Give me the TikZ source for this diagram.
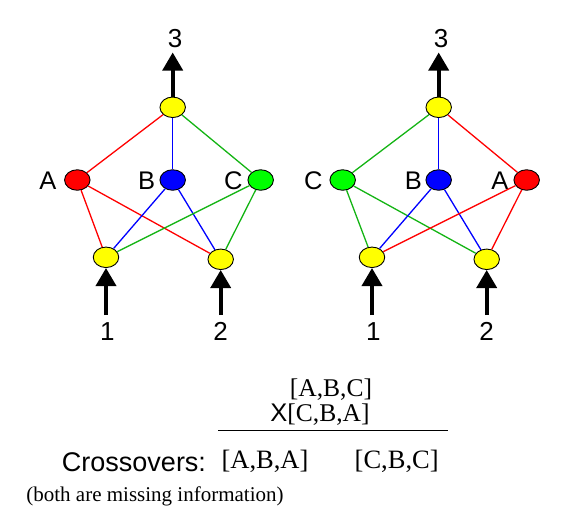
\documentclass[tikz,border=0pt]{standalone}
\usepackage{fontspec}
\setmainfont{Liberation Sans}
\newfontfamily\tnr{Liberation Serif}
\usetikzlibrary{shapes.geometric,arrows.meta}
\definecolor{nred}{RGB}{255,0,0}
\definecolor{nblue}{RGB}{0,0,255}
\definecolor{ngreen}{RGB}{0,255,0}
\definecolor{egreen}{RGB}{20,180,20}
\definecolor{nyellow}{RGB}{255,255,0}
\begin{document}
\begin{tikzpicture}[x=1pt,y=-1pt,
  vert/.style={ellipse,draw=black,line width=0.9pt,minimum width=25.5pt,minimum height=20.5pt,inner sep=0pt},
  lbl/.style={font=\fontsize{25.5}{25.5}\selectfont,inner sep=0pt},
  num/.style={font=\fontsize{26}{26}\selectfont,inner sep=0pt},
  edge/.style={line width=1.3pt},
  bigarrow/.style={line width=3.6pt,-{Triangle[width=20pt,length=18pt]}},
  serif/.style={font=\tnr\fontsize{26.5}{26.5}\selectfont,inner sep=0pt}]
\useasboundingbox (0,0) rectangle (563,515);
% ---------- left graph ----------
\node[vert,fill=nyellow] (Lt) at (172.7,107.3) {};
\node[vert,fill=nred] (LA) at (77.3,180) {};
\node[vert,fill=nblue] (LB) at (172.7,180) {};
\node[vert,fill=ngreen] (LC) at (260.7,180) {};
\node[vert,fill=nyellow] (L1) at (106,257.3) {};
\node[vert,fill=nyellow] (L2) at (220.7,259.3) {};
\node[lbl] (LAl) at (48,181) {A};
\node[lbl] (LBl) at (146.7,181) {B};
\node[lbl] (LCl) at (233.3,181) {C};
\node[num] (L1l) at (107.3,331.7) {1};
\node[num] (L2l) at (220.7,331.7) {2};
\node[num] (L3l) at (175,39) {3};
\coordinate (L1t) at (106,315);
\coordinate (L2t) at (220.7,315);
\coordinate (L3t) at (172.7,52.5);
\draw[edge,nred] (Lt) -- (LA);
\draw[edge,nblue] (Lt) -- (LB);
\draw[edge,egreen] (Lt) -- (LC);
\draw[edge,nred] (LA) -- (L1);
\draw[edge,nred] (LA) -- (L2);
\draw[edge,nblue] (LB) -- (L1);
\draw[edge,nblue] (LB) -- (L2);
\draw[edge,egreen] (LC) -- (L1);
\draw[edge,egreen] (LC) -- (L2);
\draw[bigarrow] (L1t) -- (L1.south);
\draw[bigarrow] (L2t) -- (L2.south);
\draw[bigarrow] (Lt.north) -- (L3t);
% ---------- right graph ----------
\node[vert,fill=nyellow] (Rt) at (438.7,107.3) {};
\node[vert,fill=ngreen] (RC) at (342.7,180) {};
\node[vert,fill=nblue] (RB) at (438.7,180) {};
\node[vert,fill=nred] (RA) at (526.7,180) {};
\node[vert,fill=nyellow] (R1) at (372,257.3) {};
\node[vert,fill=nyellow] (R2) at (486.7,259.3) {};
\node[lbl] (RCl) at (313.3,181) {C};
\node[lbl] (RBl) at (413.3,181) {B};
\node[lbl] (RAl) at (500,181) {A};
\node[num] (R1l) at (373.3,331.7) {1};
\node[num] (R2l) at (486.7,331.7) {2};
\node[num] (R3l) at (441,39) {3};
\coordinate (R1t) at (372,315);
\coordinate (R2t) at (486.7,315);
\coordinate (R3t) at (438.7,52.5);
\draw[edge,egreen] (Rt) -- (RC);
\draw[edge,nblue] (Rt) -- (RB);
\draw[edge,nred] (Rt) -- (RA);
\draw[edge,egreen] (RC) -- (R1);
\draw[edge,egreen] (RC) -- (R2);
\draw[edge,nblue] (RB) -- (R1);
\draw[edge,nblue] (RB) -- (R2);
\draw[edge,nred] (RA) -- (R1);
\draw[edge,nred] (RA) -- (R2);
\draw[bigarrow] (R1t) -- (R1.south);
\draw[bigarrow] (R2t) -- (R2.south);
\draw[bigarrow] (Rt.north) -- (R3t);
% ---------- text ----------
\node[serif,font=\tnr\fontsize{25.5}{25.5}\selectfont] (p1) at (331,389.5) {[A,B,C]};
\node[serif,font=\tnr\fontsize{25.5}{25.5}\selectfont] (p2) at (320,414.5) {{\rmfamily\fontsize{25.5}{25.5}\selectfont X}[C,B,A]};
\coordinate (ls) at (218,430.5);
\coordinate (le) at (448,430.5);
\draw[line width=1.6pt] (ls) -- (le);
\node[num,font=\fontsize{27}{27}\selectfont] (cr) at (134,461.7) {Crossovers:};
\node[serif] (c1) at (265,461.7) {[A,B,A]};
\node[serif] (c2) at (396.7,461.7) {[C,B,C]};
\node[inner sep=0pt,font=\tnr\fontsize{21}{21}\selectfont] (note) at (155,496.7) {(both are missing information)};
\end{tikzpicture}
\end{document}
